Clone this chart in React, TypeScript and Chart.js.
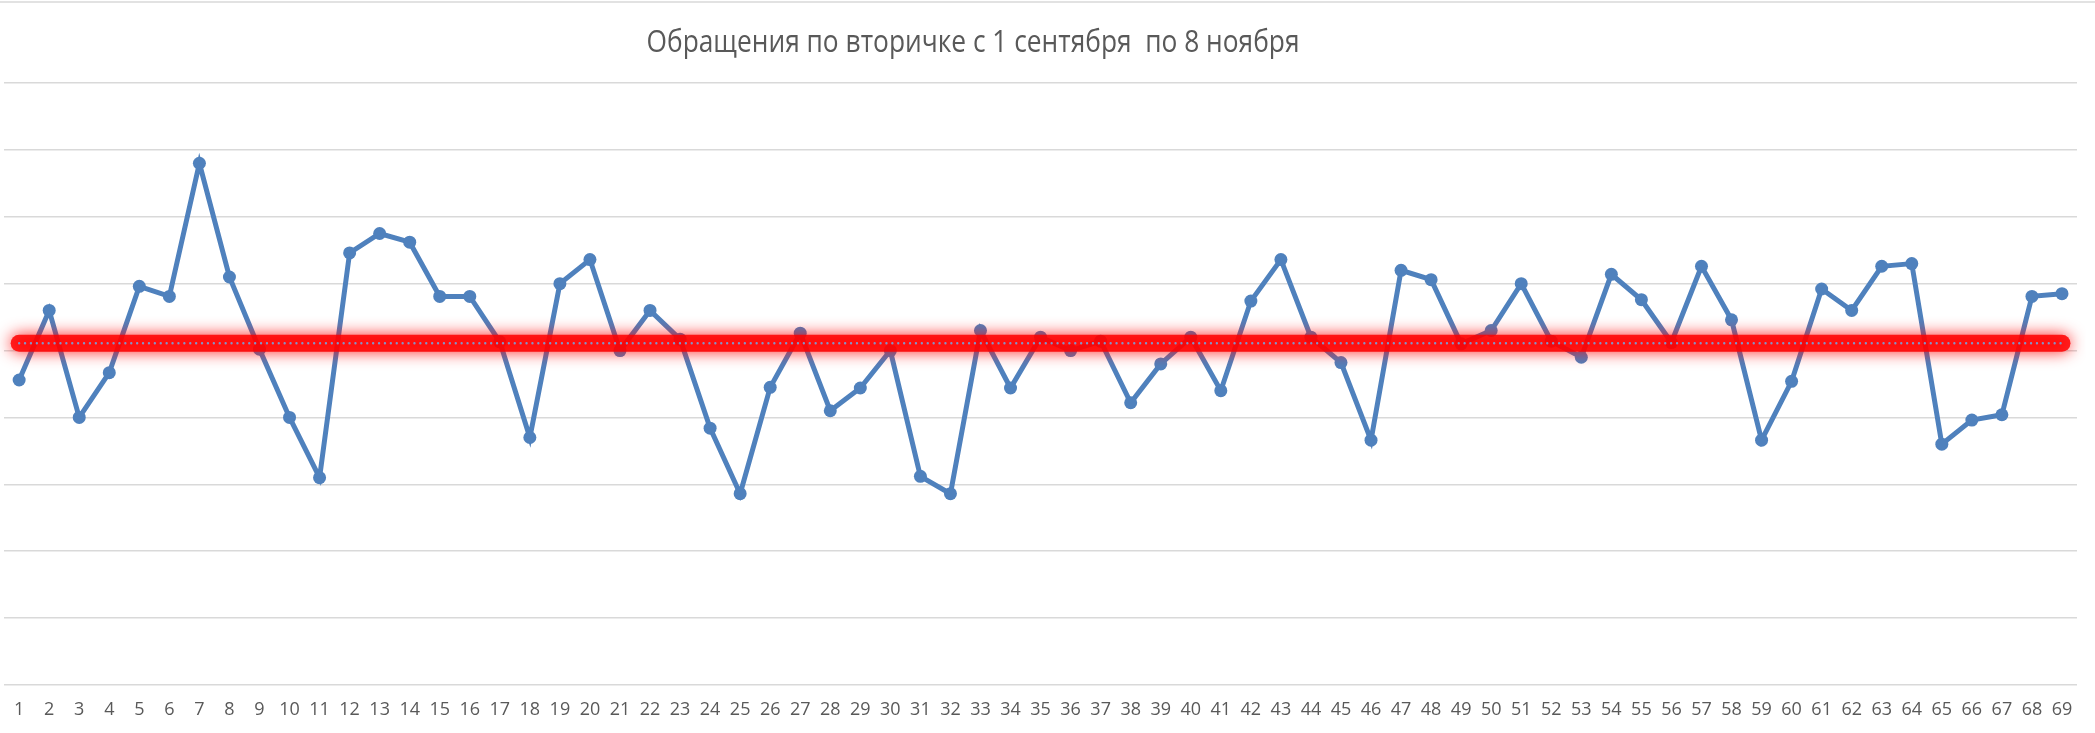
import React, { useEffect, useRef } from "react";
import { Chart, registerables } from "chart.js";

Chart.register(...registerables);

const TITLE = "Обращения по вторичке с 1 сентября  по 8 ноября";

const days: string[] = Array.from({ length: 69 }, (_, i) => String(i + 1));

const requests: number[] = [
  4.56, 5.6, 4.0, 4.67, 5.96, 5.81, 7.8, 6.1, 5.02, 4.0,
  3.1, 6.46, 6.75, 6.62, 5.81, 5.81, 5.13, 3.7, 6.0, 6.36,
  5.0, 5.6, 5.17, 3.84, 2.86, 4.45, 5.26, 4.1, 4.44, 5.0,
  3.12, 2.86, 5.3, 4.44, 5.2, 5.0, 5.14, 4.22, 4.8, 5.2,
  4.4, 5.74, 6.36, 5.2, 4.82, 3.66, 6.2, 6.06, 5.1, 5.3,
  6.0, 5.14, 4.9, 6.14, 5.76, 5.12, 6.26, 5.46, 3.66, 4.54,
  5.92, 5.6, 6.26, 6.3, 3.6, 3.96, 4.04, 5.81, 5.85,
];

const AVERAGE = 5.11;

const Y_MIN = 0;
const Y_MAX = 9;

const glowPlugin = {
  id: "glowLine",
  beforeDatasetDraw(chart: any, args: any) {
    const ds = chart.data.datasets[args.index];
    if (ds && ds._glow) {
      const ctx = chart.ctx;
      ctx.save();
      ctx.shadowColor = "rgba(255,0,0,1)";
      ctx.shadowBlur = 16;
      ctx.shadowOffsetX = 0;
      ctx.shadowOffsetY = 0;
    }
  },
  afterDatasetDraw(chart: any, args: any) {
    const ds = chart.data.datasets[args.index];
    if (ds && ds._glow) {
      chart.ctx.restore();
    }
  },
};

const decorPlugin = {
  id: "decor",
  afterDraw(chart: any) {
    const ctx = chart.ctx;
    ctx.save();
    ctx.strokeStyle = "#d9d9d9";
    ctx.lineWidth = 1.5;
    ctx.beginPath();
    ctx.moveTo(0, 2);
    ctx.lineTo(chart.width, 2);
    ctx.stroke();
    ctx.fillStyle = "#595959";
    ctx.font = '31px "Open Sans"';
    ctx.textAlign = "center";
    ctx.textBaseline = "middle";
    ctx.fillText(TITLE, 973, 43, 653);
    ctx.restore();
  },
};

export default function App() {
  const ref = useRef<HTMLCanvasElement | null>(null);

  useEffect(() => {
    if (!ref.current) return;
    const chart = new Chart(ref.current, {
      type: "line",
      data: {
        labels: days,
        datasets: [
          {
            label: "dots",
            data: days.map(() => AVERAGE),
            borderColor: "rgba(125,155,210,0.95)",
            borderWidth: 2.4,
            borderDash: [0, 5.9],
            borderCapStyle: "round",
            pointRadius: 0,
            order: 0,
          } as any,
          {
            label: "average",
            data: days.map(() => AVERAGE),
            borderColor: "rgba(255,0,0,0.85)",
            borderWidth: 17,
            borderCapStyle: "round",
            pointRadius: 0,
            order: 1,
            _glow: true,
          } as any,
          {
            label: "requests",
            data: requests,
            borderColor: "#4f81bd",
            backgroundColor: "#4f81bd",
            borderWidth: 5,
            pointRadius: 6.5,
            pointBorderWidth: 0,
            pointBackgroundColor: "#4f81bd",
            tension: 0,
            order: 2,
          },
        ],
      },
      options: {
        responsive: false,
        animation: false,
        devicePixelRatio: 1,
        layout: { autoPadding: false, padding: { left: 1, right: 18, top: 83, bottom: 0 } },
        plugins: {
          legend: { display: false },
          title: { display: false },
          tooltip: { enabled: false },
        },
        scales: {
          x: {
            offset: true,
            grid: { display: false, drawTicks: false },
            border: { display: false },
            ticks: {
              color: "#595959",
              font: { family: "Open Sans", size: 18 },
              padding: 14,
              maxRotation: 0,
              autoSkip: false,
            },
            afterFit(scale: any) {
              scale.height = 48;
            },
          } as any,
          y: {
            min: Y_MIN,
            max: Y_MAX,
            grid: { color: "#d9d9d9", lineWidth: 1.5, drawTicks: false },
            border: { display: false },
            ticks: { display: false, stepSize: 1 },
            afterFit(scale: any) {
              scale.width = 0;
            },
          } as any,
        },
      },
      plugins: [glowPlugin, decorPlugin],
    });
    return () => chart.destroy();
  }, []);

  return (
    <div style={{ position: "absolute", left: 0, top: 0, width: 2095, height: 733, background: "#fff" }}>
      <canvas ref={ref} width={2095} height={733} style={{ display: "block" }} />
    </div>
  );
}
